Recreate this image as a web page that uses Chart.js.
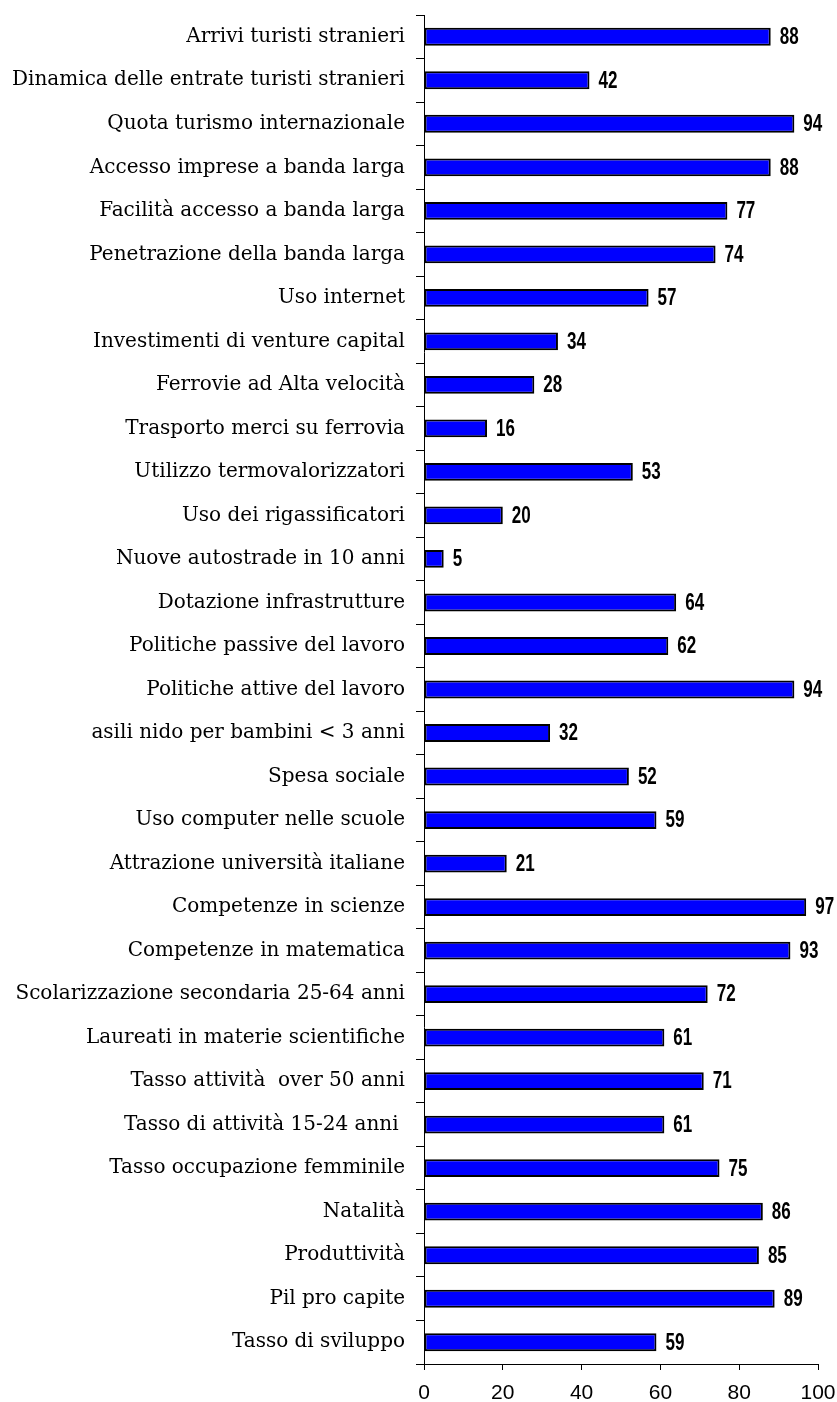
<!DOCTYPE html>
<html>
<head>
<meta charset="utf-8">
<script src="https://cdn.jsdelivr.net/npm/chart.js@4/dist/chart.umd.min.js"></script>
<style>
  html, body { margin: 0; padding: 0; background: #fff; }
  #wrap { width: 837px; height: 1402px; position: relative; }
</style>
</head>
<body>
<div id="wrap"><canvas id="chart"></canvas></div>
<script>
// Indicator names, top to bottom
const categories = [
  "Arrivi turisti stranieri",
  "Dinamica delle entrate turisti stranieri",
  "Quota turismo internazionale",
  "Accesso imprese a banda larga",
  "Facilità accesso a banda larga",
  "Penetrazione della banda larga",
  "Uso internet",
  "Investimenti di venture capital",
  "Ferrovie ad Alta velocità",
  "Trasporto merci su ferrovia",
  "Utilizzo termovalorizzatori",
  "Uso dei rigassificatori",
  "Nuove autostrade in 10 anni",
  "Dotazione infrastrutture",
  "Politiche passive del lavoro",
  "Politiche attive del lavoro",
  "asili nido per bambini < 3 anni",
  "Spesa sociale",
  "Uso computer nelle scuole",
  "Attrazione università italiane",
  "Competenze in scienze",
  "Competenze in matematica",
  "Scolarizzazione secondaria 25-64 anni",
  "Laureati in materie scientifiche",
  "Tasso attività  over 50 anni",
  "Tasso di attività 15-24 anni ",
  "Tasso occupazione femminile",
  "Natalità",
  "Produttività",
  "Pil pro capite",
  "Tasso di sviluppo"
];

// Score for each indicator
const scores = [88, 42, 94, 88, 77, 74, 57, 34, 28, 16, 53, 20, 5, 64, 62, 94,
                32, 52, 59, 21, 97, 93, 72, 61, 71, 61, 75, 86, 85, 89, 59];

// Value axis ticks
const xTicks = [0, 20, 40, 60, 80, 100];

// Writes each bar's value just past its end, in a narrow bold face
const valueLabels = {
  id: 'valueLabels',
  afterDatasetsDraw(chart) {
    const ctx = chart.ctx;
    const meta = chart.getDatasetMeta(0);
    const squeeze = 0.74;
    ctx.save();
    ctx.fillStyle = '#000';
    ctx.font = 'bold 23px "Liberation Sans", Arial, sans-serif';
    ctx.textAlign = 'left';
    ctx.textBaseline = 'middle';
    meta.data.forEach((bar, i) => {
      ctx.save();
      ctx.translate(bar.x + 9, bar.y + 1);
      ctx.scale(squeeze, 1);
      ctx.fillText(String(chart.data.datasets[0].data[i]), 0, 0);
      ctx.restore();
    });
    ctx.restore();
  }
};

new Chart(document.getElementById('chart'), {
  type: 'bar',
  data: {
    labels: categories,
    datasets: [{
      data: scores,
      backgroundColor: '#0000FF',
      borderColor: '#000',
      borderWidth: 2,
      borderSkipped: false,
      categoryPercentage: 1,
      barPercentage: 0.41
    }]
  },
  options: {
    indexAxis: 'y',
    responsive: true,
    maintainAspectRatio: false,
    animation: false,
    layout: { padding: { top: 15, right: 19, left: 0, bottom: 0 } },
    plugins: { legend: { display: false }, tooltip: { enabled: false } },
    scales: {
      x: {
        min: 0, max: 100,
        afterBuildTicks(scale) { scale.ticks = xTicks.map(v => ({ value: v })); },
        grid: { drawOnChartArea: false, drawTicks: true, tickLength: 6, color: '#000' },
        border: { color: '#000', width: 1 },
        ticks: { color: '#000', font: { family: '"Liberation Sans", Arial, sans-serif', size: 21 }, padding: 11, maxRotation: 0 },
        afterFit(scale) { scale.height = 38; scale.paddingLeft = 0; scale.paddingRight = 0; }
      },
      y: {
        grid: { drawOnChartArea: false, drawTicks: true, tickLength: 8, offset: true, color: '#000' },
        border: { color: '#000', width: 1 },
        ticks: { color: '#000', font: { family: '"DejaVu Serif", "Liberation Serif", serif', size: 20 }, padding: 11, autoSkip: false },
        afterFit(scale) { scale.width = 424; scale.paddingTop = 0; scale.paddingBottom = 0; }
      }
    }
  },
  plugins: [valueLabels]
});
</script>
</body>
</html>
